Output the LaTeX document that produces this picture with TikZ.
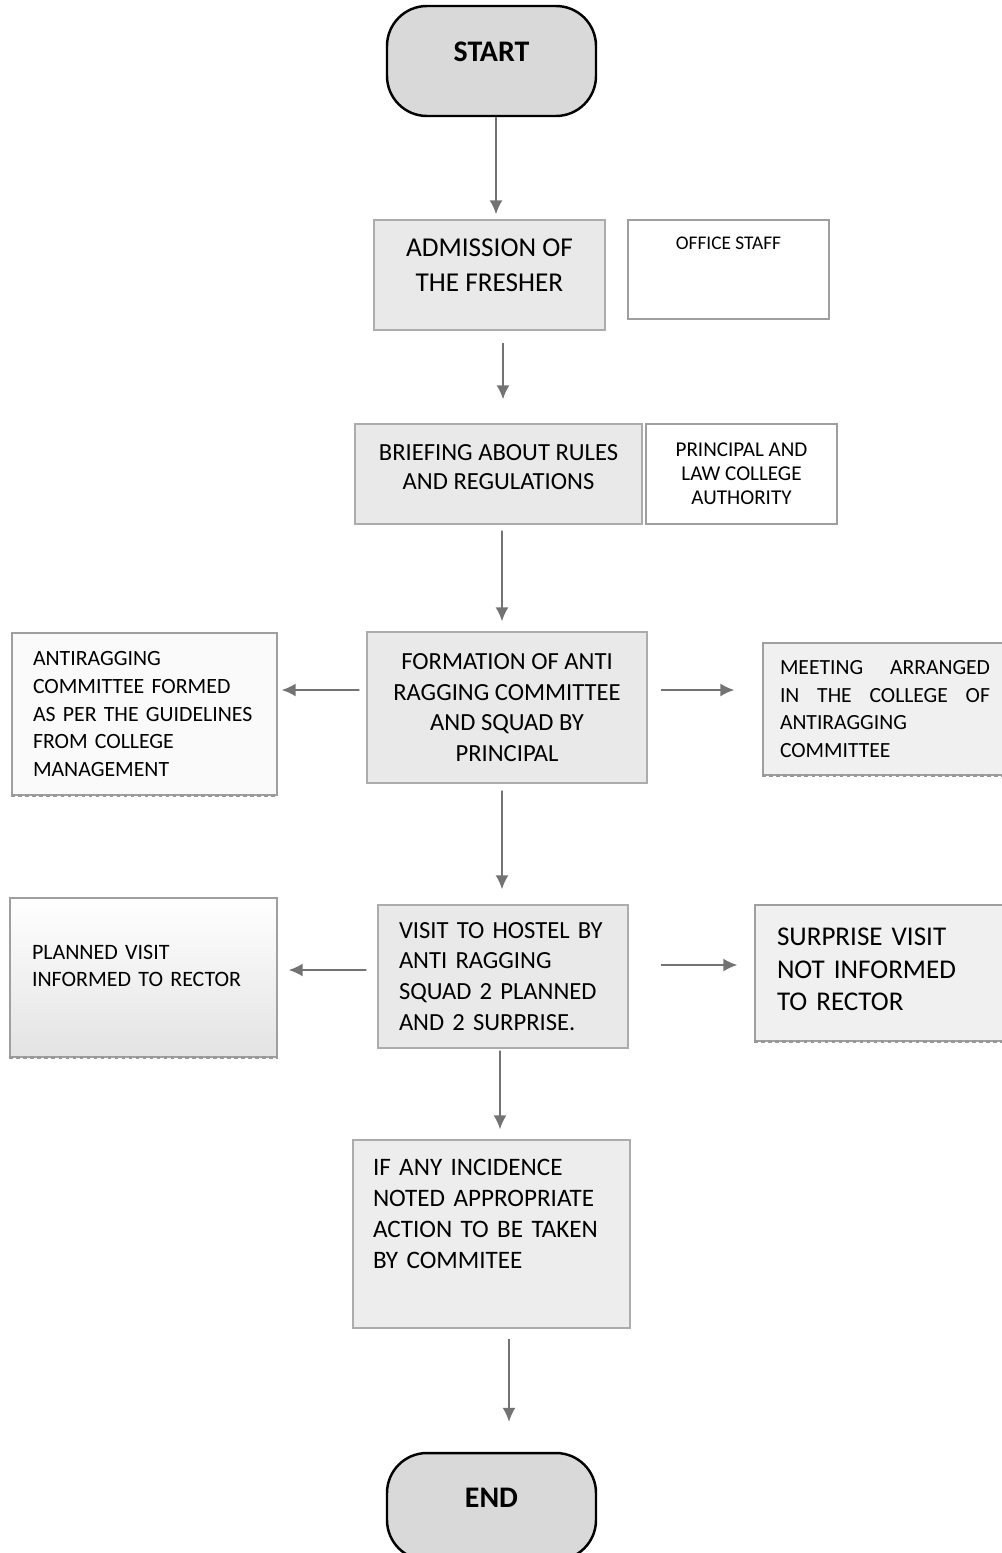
\documentclass[tikz,border=0pt]{standalone}
\usepackage{fontspec}
\setmainfont{Carlito}
\usepackage{tikz}
\usetikzlibrary{arrows.meta}
\tikzstyle{startstop} = [rectangle, rounded corners=0.8cm, minimum width=4.18cm, draw=black, line width=1.4pt, fill=gray!30, font=\fontsize{17}{20}\selectfont\bfseries]
\tikzstyle{process} = [rectangle, inner sep=0pt, align=center, draw=gray!65, line width=0.8pt, fill=gray!17]
\tikzstyle{note} = [rectangle, inner ysep=0pt, align=left, draw=gray!75, line width=0.8pt, fill=gray!6]
\tikzstyle{shade} = [draw=gray!80, line width=2pt, dotted]
\tikzstyle{arrow} = [line width=1pt, draw=black!55, ->, >={Latex[length=2.8mm,width=2.6mm]}]
\newcommand{\lift}[1]{\rule[-#1]{0pt}{#1}}

\begin{document}
\begin{tikzpicture}
	\useasboundingbox (0,0) rectangle (20.02,-31.06);
	\node (start) [startstop, minimum height=2.2cm] at (9.83,-1.22) {START\lift{0.36cm}};
	\node (adm) [process, minimum width=4.62cm, minimum height=2.2cm, font=\fontsize{15.5}{19.8}\selectfont] at (9.79,-5.5) {ADMISSION OF\\THE FRESHER\lift{0.4cm}};
	\node (office) [process, fill=white, draw=gray!75, minimum width=4.02cm, minimum height=1.98cm, font=\fontsize{11}{13}\selectfont] at (14.57,-5.39) {OFFICE STAFF\lift{1.06cm}};
	\node (brief) [process, minimum width=5.74cm, minimum height=2cm, font=\fontsize{14}{17}\selectfont] at (9.97,-9.48) {BRIEFING ABOUT RULES\\AND REGULATIONS\lift{0.28cm}};
	\node (princ) [process, fill=white, draw=gray!75, minimum width=3.82cm, minimum height=2cm, font=\fontsize{12}{13.6}\selectfont] at (14.83,-9.48) {PRINCIPAL AND\\LAW COLLEGE\\AUTHORITY};
	\node (form) [process, minimum width=5.6cm, minimum height=3.02cm, font=\fontsize{14}{17.4}\selectfont] at (10.14,-14.15) {FORMATION OF ANTI\\RAGGING COMMITTEE\\AND SQUAD BY\\PRINCIPAL};
	\node (anti) [note, fill=gray!4, inner xsep=0.42cm, text width=4.46cm, minimum height=3.24cm, font=\fontsize{12.4}{15.8}\selectfont] at (2.89,-14.28) {ANTIRAGGING\\COMMITTEE FORMED\\AS PER THE GUIDELINES\\FROM COLLEGE\\MANAGEMENT};
	\node (meet) [note, fill=gray!12, inner xsep=0.34cm, text width=4.2cm, minimum height=2.64cm, font=\fontsize{12.3}{15.7}\selectfont] at (17.7,-14.18) {MEETING\hfill ARRANGED\\IN\hfill THE\hfill COLLEGE\hfill OF\\ANTIRAGGING\\COMMITTEE};
	\draw [arrow, shorten <=0.14cm, shorten >=0.08cm] ([yshift=0.35cm]form.west) -- ([yshift=0.48cm]anti.east);
	\draw [arrow, shorten <=0.26cm, shorten >=0.56cm] ([yshift=0.35cm]form.east) -- ([yshift=0.38cm]meet.west);
	\node (visit) [note, fill=gray!17, draw=gray!65, inner xsep=0.42cm, text width=4.16cm, minimum height=2.86cm, font=\fontsize{14}{17.6}\selectfont] at (10.06,-19.53) {VISIT TO HOSTEL BY\\ANTI RAGGING\\SQUAD 2 PLANNED\\AND 2 SURPRISE.};
	\node (plan) [note, top color=white, bottom color=gray!22, inner xsep=0.44cm, text width=4.46cm, minimum height=3.18cm, font=\fontsize{12.5}{15.3}\selectfont] at (2.87,-19.55) {PLANNED VISIT\\INFORMED TO RECTOR\lift{0.46cm}};
	\node (surp) [note, fill=gray!12, inner xsep=0.44cm, text width=4.1cm, minimum height=2.72cm, font=\fontsize{15.4}{18.4}\selectfont] at (17.59,-19.46) {SURPRISE VISIT\\NOT INFORMED\\TO RECTOR\lift{0.14cm}};
	\draw [arrow, shorten <=0.22cm, shorten >=0.22cm] ([yshift=0.13cm]visit.west) -- ([yshift=0.15cm]plan.east);
	\draw [arrow, shorten <=0.64cm, shorten >=0.34cm] ([yshift=0.23cm]visit.east) -- ([yshift=0.16cm]surp.west);
	\node (incid) [note, fill=gray!14, draw=gray!65, inner xsep=0.4cm, text width=4.74cm, minimum height=3.76cm, font=\fontsize{14.3}{17.6}\selectfont] at (9.83,-24.68) {IF ANY INCIDENCE\\NOTED APPROPRIATE\\ACTION TO BE TAKEN\\BY COMMITEE\lift{0.82cm}};
	\node (end) [startstop, minimum height=2.14cm] at (9.83,-30.13) {END\lift{0.36cm}};
	\foreach \n in {anti,meet,plan,surp}
		\draw [shade] (\n.south west) -- (\n.south east);
	\draw [arrow, shorten >=0.1cm] ([xshift=0.09cm]start.south) -- ([xshift=0.13cm]adm.north);
	\draw [arrow, shorten <=0.24cm, shorten >=0.48cm] ([xshift=0.27cm]adm.south) -- ([xshift=0.09cm]brief.north);
	\draw [arrow, shorten <=0.12cm, shorten >=0.2cm] ([xshift=0.07cm]brief.south) -- ([xshift=-0.1cm]form.north);
	\draw [arrow, shorten <=0.14cm, shorten >=0.3cm] ([xshift=-0.1cm]form.south) -- ([xshift=-0.02cm]visit.north);
	\draw [arrow, shorten <=0.04cm, shorten >=0.2cm] ([xshift=-0.06cm]visit.south) -- ([xshift=0.17cm]incid.north);
	\draw [arrow, shorten <=0.2cm, shorten >=0.6cm] ([xshift=0.35cm]incid.south) -- ([xshift=0.35cm]end.north);
\end{tikzpicture}
\end{document}
